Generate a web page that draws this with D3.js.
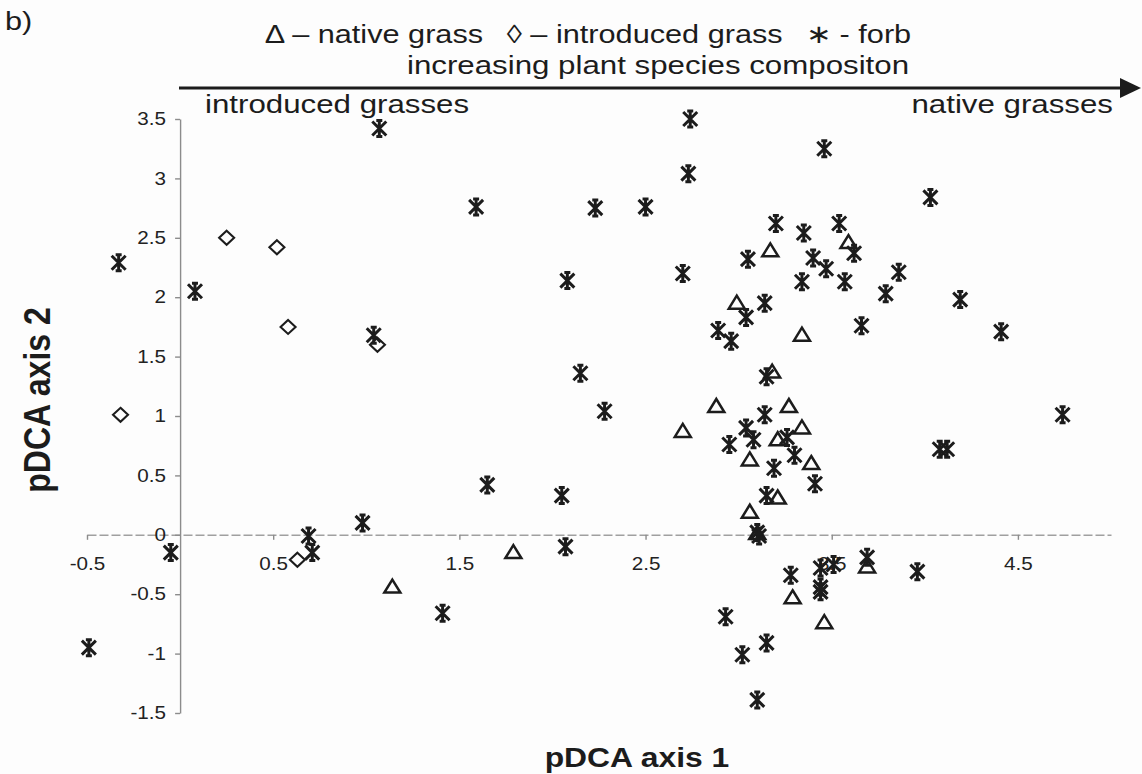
<!DOCTYPE html>
<html>
<head>
<meta charset="utf-8">
<script src="https://cdn.jsdelivr.net/npm/d3@7"></script>
<style>
  body { margin: 0; background: #fdfdfd; }
  svg { display: block; font-family: "Liberation Sans", Arial, sans-serif; }
</style>
</head>
<body>
<svg id="graphic" width="1142" height="774"></svg>
<script>
// points: [pDCA axis 1, pDCA axis 2]
const nativeGrass = [
  [1.14, -0.44], [1.79, -0.15], [2.70, 0.87], [2.88, 1.08], [2.99, 1.95],
  [3.06, 0.63], [3.06, 0.19], [3.10, 0.01], [3.17, 2.39], [3.18, 1.37],
  [3.21, 0.80], [3.21, 0.31], [3.27, 1.08], [3.34, 0.90], [3.34, 1.68],
  [3.39, 0.60], [3.29, -0.53], [3.46, -0.74], [3.69, -0.27], [3.59, 2.46],
];
const introducedGrass = [
  [0.25, 2.50], [0.52, 2.42], [0.58, 1.75], [1.06, 1.60], [-0.32, 1.01], [0.63, -0.21],
];
const forb = [
  [-0.49, -0.95], [-0.33, 2.29], [-0.05, -0.15], [0.08, 2.05], [0.69, -0.01],
  [0.71, -0.15], [0.98, 0.10], [1.04, 1.68], [1.07, 3.42], [1.41, -0.66],
  [1.59, 2.76], [1.65, 0.42], [2.05, 0.33], [2.07, -0.10], [2.08, 2.14],
  [2.15, 1.36], [2.23, 2.75], [2.28, 1.04], [2.50, 2.76], [2.70, 2.20],
  [2.73, 3.04], [2.74, 3.50], [2.89, 1.72], [2.93, -0.69], [2.95, 0.76],
  [2.96, 1.63], [3.02, -1.01], [3.04, 0.90], [3.04, 1.83], [3.05, 2.32],
  [3.08, 0.80], [3.10, 0.02], [3.11, -0.01], [3.10, -1.39], [3.14, 1.01],
  [3.14, 1.95], [3.15, 1.33], [3.15, 0.33], [3.15, -0.91], [3.19, 0.56],
  [3.20, 2.62], [3.26, 0.82], [3.28, -0.34], [3.30, 0.67], [3.34, 2.13],
  [3.35, 2.54], [3.40, 2.33], [3.41, 0.43], [3.44, -0.28], [3.44, -0.44],
  [3.44, -0.48], [3.46, 3.25], [3.47, 2.24], [3.51, -0.25], [3.54, 2.62],
  [3.57, 2.13], [3.62, 2.37], [3.66, 1.76], [3.69, -0.19], [3.79, 2.03],
  [3.86, 2.21], [3.96, -0.31], [4.03, 2.84], [4.08, 0.72], [4.12, 0.72],
  [4.19, 1.98], [4.41, 1.71], [4.74, 1.01],
];
const xTicks = [-0.5, 0.5, 1.5, 2.5, 3.5, 4.5];
const yTicks = [-1.5, -1, -0.5, 0, 0.5, 1, 1.5, 2, 2.5, 3, 3.5];
const legendLabels = ['Δ – native grass', '◊ – introduced grass', '∗ - forb'];

const svg = d3.select('#graphic');
const ink = '#1c1c1c';
const stretch = 1.18; // the scan is wider than it is tall

const xScale = d3.scaleLinear().domain([-0.5, 5]).range([87, 1111]);
const yScale = d3.scaleLinear().domain([-1.5, 3.5]).range([713, 119]);

// header
function stretchedText(x, y, txt, size, anchor, weight) {
  const g = svg.append('g').attr('transform', `translate(${x},${y}) scale(${stretch},1)`);
  return g.append('text')
      .attr('text-anchor', anchor || 'start')
      .attr('font-size', size)
      .attr('font-weight', weight || 'normal')
      .attr('fill', ink)
      .text(txt);
}

stretchedText(5, 30, 'b)', 26);

const legendG = svg.append('g').attr('transform', `translate(0,43) scale(${stretch},1)`);
const legendTexts = legendG.selectAll('text')
    .data(legendLabels)
    .enter()
    .append('text')
    .attr('font-size', 26)
    .attr('fill', ink)
    .text((d) => d);
const widths = [];
legendTexts.each(function() { widths.push(this.getComputedTextLength()); });
const gap = 20;
const total = d3.sum(widths) + gap * (widths.length - 1);
let cursor = 588 / stretch - total / 2;
legendTexts.attr('x', (d, i) => {
  const x = cursor;
  cursor += widths[i] + gap;
  return x;
});

stretchedText(658, 74, 'increasing plant species compositon', 26.5, 'middle');

// arrow
svg.append('line')
    .attr('x1', 179).attr('x2', 1124)
    .attr('y1', 88).attr('y2', 88)
    .attr('stroke', ink).attr('stroke-width', 3);
svg.append('path')
    .attr('d', 'M1120,78L1141,88L1120,98Z')
    .attr('fill', ink);

stretchedText(205, 113, 'introduced grasses', 26.5);
stretchedText(1113, 113, 'native grasses', 26.5, 'end');

// axes
const yAxis = d3.axisLeft(yScale)
    .tickValues(yTicks)
    .tickSize(5)
    .tickSizeOuter(0)
    .tickPadding(7)
    .tickFormat((d) => String(d));

const xAxis = d3.axisBottom(xScale)
    .tickValues(xTicks)
    .tickSize(5)
    .tickSizeOuter(0)
    .tickPadding(18)
    .tickFormat((d) => String(d));

const gx = svg.append('g')
    .attr('transform', `translate(0,${yScale(0)})`)
    .call(xAxis);
const gy = svg.append('g')
    .attr('transform', `translate(${xScale(0)},0)`)
    .call(yAxis);

[gx, gy].forEach((g) => {
  g.select('.domain').attr('stroke', '#8c8c8c').attr('stroke-width', 1.4);
  g.selectAll('.tick line').attr('stroke', '#8c8c8c').attr('stroke-width', 1.4);
  g.selectAll('.tick text')
      .attr('font-size', 17.5)
      .attr('font-family', '"Liberation Sans", Arial, sans-serif')
      .attr('fill', '#222')
      .attr('transform', `scale(${stretch},1)`);
});
gx.select('.domain').attr('stroke', '#a0a0a0').attr('stroke-dasharray', '9,3');
gx.selectAll('.tick text').attr('x', 0);

// axis titles
stretchedText(637, 767, 'pDCA axis 1', 27, 'middle', 'bold');
svg.append('g')
    .attr('transform', `translate(50,400) scale(${stretch},1) rotate(-90)`)
    .append('text')
    .attr('text-anchor', 'middle')
    .attr('font-size', 32)
    .attr('font-weight', 'bold')
    .attr('fill', ink)
    .text('pDCA axis 2');

// markers
const asterisk = 'M0,-8V8M-7,-7L7,7M-7,7L7,-7M-3,-8H3M-3,8H3';
const triangle = 'M0,-7.5L8,5.5L-8,5.5Z';
const diamond = 'M0,-7L7.5,0L0,7L-7.5,0Z';

svg.append('g')
    .selectAll('path')
    .data(introducedGrass)
    .enter()
    .append('path')
    .attr('d', diamond)
    .attr('transform', (d) => `translate(${xScale(d[0])},${yScale(d[1])})`)
    .attr('fill', 'none')
    .attr('stroke', ink)
    .attr('stroke-width', 2.1);

svg.append('g')
    .selectAll('path')
    .data(nativeGrass)
    .enter()
    .append('path')
    .attr('d', triangle)
    .attr('transform', (d) => `translate(${xScale(d[0])},${yScale(d[1])})`)
    .attr('fill', 'none')
    .attr('stroke', ink)
    .attr('stroke-width', 2.5)
    .attr('stroke-linejoin', 'miter');

svg.append('g')
    .selectAll('path')
    .data(forb)
    .enter()
    .append('path')
    .attr('d', asterisk)
    .attr('transform', (d) => `translate(${xScale(d[0])},${yScale(d[1])})`)
    .attr('fill', 'none')
    .attr('stroke', ink)
    .attr('stroke-width', 3);
</script>
</body>
</html>
